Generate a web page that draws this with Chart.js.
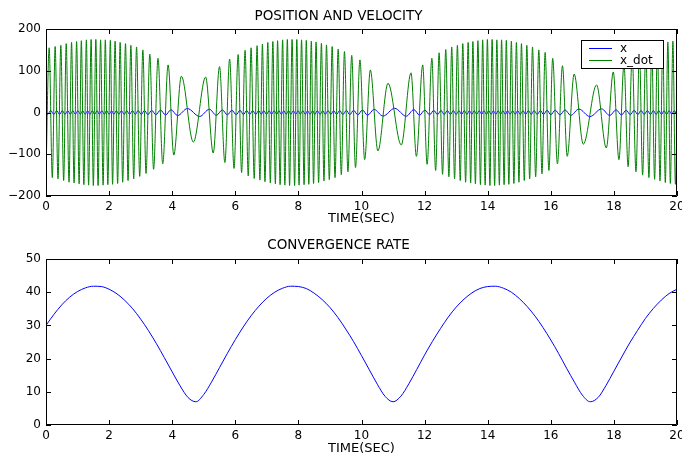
<!DOCTYPE html>
<html>
<head>
<meta charset="utf-8">
<script src="https://cdn.jsdelivr.net/npm/chart.js@4.4.0/dist/chart.umd.min.js"></script>
<style>
  html, body { margin: 0; padding: 0; background: #fff; }
  #wrap { position: relative; width: 682px; height: 455px; overflow: hidden; }
  canvas { position: absolute; left: 0; }
  #chart-top { top: 0; }
  #chart-bottom { top: 228px; }
</style>
</head>
<body>
<div id="wrap">
  <canvas id="chart-top" width="682" height="228"></canvas>
  <canvas id="chart-bottom" width="682" height="227"></canvas>
</div>
<script>
// Data: extrema of x_dot, extrema of x, convergence rate
const xdotTime = [
  0, 0.10, 0.20, 0.29, 0.38, 0.47, 0.56, 0.64, 0.73, 0.81, 0.89, 0.97, 1.05, 1.12, 1.20, 1.28, 1.35, 1.43, 1.50, 1.58,
  1.65, 1.73, 1.81, 1.88, 1.96, 2.04, 2.11, 2.19, 2.27, 2.35, 2.43, 2.52, 2.60, 2.69, 2.78, 2.87, 2.97, 3.07, 3.17, 3.29,
  3.41, 3.55, 3.70, 3.87, 4.05, 4.29, 4.67, 5.06, 5.30, 5.50, 5.67, 5.82, 5.96, 6.09,
  6.20, 6.31, 6.41, 6.50, 6.60, 6.69, 6.78, 6.86, 6.94, 7.03, 7.11, 7.19, 7.27, 7.34, 7.42, 7.50, 7.57, 7.65, 7.72, 7.80,
  7.88, 7.95, 8.02, 8.10, 8.18, 8.25, 8.33, 8.41, 8.48, 8.56, 8.64, 8.73, 8.81, 8.89, 8.98, 9.07, 9.16, 9.26, 9.36, 9.46,
  9.57, 9.69, 9.81, 9.95, 10.10, 10.28, 10.52, 10.84, 11.26, 11.57, 11.74, 11.94, 12.08, 12.23,
  12.35, 12.46, 12.57, 12.67, 12.77, 12.86, 12.95, 13.04, 13.13, 13.21, 13.30, 13.38, 13.46, 13.53, 13.61, 13.69, 13.77, 13.84, 13.92, 13.99,
  14.07, 14.14, 14.22, 14.29, 14.37, 14.44, 14.52, 14.59, 14.67, 14.75, 14.83, 14.91, 14.99, 15.07, 15.16, 15.24, 15.33, 15.42, 15.52, 15.62,
  15.72, 15.82, 15.94, 16.06, 16.21, 16.37, 16.52, 16.74, 17.03, 17.45, 17.76, 17.98, 18.16, 18.32,
  18.45, 18.58, 18.70, 18.81, 18.91, 19.01, 19.11, 19.20, 19.29, 19.38, 19.46, 19.55, 19.63, 19.71, 19.79, 19.87, 19.95, 20.03
];
const xdotValue = [
  -150, 155, -156, 158, -159, 161, -163, 165, -167, 168, -169, 170, -171, 172, -173, 174, -174, 175, -175, 175,
  -175, 174, -174, 174, -173, 173, -172, 171, -170, 168, -167, 165, -163, 161, -159, 157, -153, 150, -146, 140,
  -136, 130, -123, 114, -102, 87, -71, 85, -97, 110, -120, 128, -134, 139,
  -144, 149, -152, 155, -158, 160, -162, 164, -166, 168, -169, 170, -171, 172, -173, 174, -174, 175, -175, 175,
  -175, 175, -174, 174, -173, 173, -172, 171, -170, 169, -168, 166, -164, 162, -161, 158, -156, 152, -149, 146,
  -142, 137, -132, 126, -113, 102, -92, 70, -78, 95, -105, 114, -124, 130,
  -139, 143, -148, 151, -154, 157, -159, 161, -163, 165, -167, 168, -169, 170, -171, 172, -173, 174, -174, 175,
  -175, 175, -175, 174, -174, 174, -173, 173, -172, 171, -170, 168, -167, 165, -163, 161, -159, 157, -154, 150,
  -147, 144, -139, 130, -123, 112, -105, 92, -76, 66, -85, 97, -113, 116,
  -130, 137, -142, 147, -150, 153, -156, 158, -160, 162, -164, 166, -168, 169, -170, 171, -172, 172
];

const xTime = [
  0,
  0.05, 0.15, 0.25, 0.34, 0.43, 0.52, 0.60, 0.69, 0.77, 0.85, 0.93, 1.01, 1.09, 1.16, 1.24, 1.32, 1.39, 1.47, 1.54, 1.62,
  1.69, 1.77, 1.85, 1.92, 2.00, 2.08, 2.15, 2.23, 2.31, 2.39, 2.48, 2.56, 2.65, 2.74, 2.83, 2.92, 3.02, 3.12, 3.23, 3.35,
  3.48, 3.63, 3.79, 3.96, 4.17, 4.48, 4.87, 5.18, 5.40, 5.59, 5.75, 5.89, 6.03, 6.15,
  6.26, 6.36, 6.46, 6.55, 6.65, 6.74, 6.82, 6.90, 6.99, 7.07, 7.15, 7.23, 7.31, 7.38, 7.46, 7.54, 7.61, 7.69, 7.76, 7.84,
  7.92, 7.99, 8.06, 8.14, 8.22, 8.29, 8.37, 8.45, 8.52, 8.60, 8.69, 8.77, 8.85, 8.94, 9.03, 9.12, 9.21, 9.31, 9.41, 9.52,
  9.63, 9.75, 9.88, 10.03, 10.19, 10.40, 10.68, 11.05, 11.42, 11.66, 11.84, 12.01, 12.16, 12.29, 12.41, 12.52,
  12.62, 12.72, 12.82, 12.91, 13.00, 13.09, 13.17, 13.26, 13.34, 13.42, 13.50, 13.57, 13.65, 13.73, 13.81, 13.88, 13.96, 14.03, 14.11, 14.18,
  14.26, 14.33, 14.41, 14.48, 14.56, 14.63, 14.71, 14.79, 14.87, 14.95, 15.03, 15.12, 15.20, 15.29, 15.38, 15.47, 15.57, 15.67, 15.77, 15.88,
  16.00, 16.14, 16.29, 16.45, 16.63, 16.89, 17.24, 17.61, 17.87, 18.07, 18.24, 18.39, 18.52, 18.64, 18.76, 18.86, 18.96, 19.06, 19.16, 19.25,
  19.34, 19.42, 19.51, 19.59, 19.67, 19.75, 19.83, 19.91, 19.99
];
const xValue = [
  0,
  -4.8, 4.7, -4.7, 4.6, -4.6, 4.5, -4.5, 4.4, -4.4, 4.3, -4.3, 4.3, -4.2, 4.2, -4.2, 4.2, -4.2, 4.2, -4.2, 4.2,
  -4.2, 4.2, -4.2, 4.2, -4.2, 4.2, -4.3, 4.3, -4.3, 4.3, -4.4, 4.4, -4.5, 4.5, -4.6, 4.7, -4.8, 4.9, -5.0, 5.2,
  -5.4, 5.7, -6.0, 6.6, -7.4, 9.5, -9.6, 7.8, -6.8, 6.2, -5.8, 5.5, -5.3, 5.1,
  -5.0, 4.9, -4.8, 4.7, -4.6, 4.6, -4.5, 4.5, -4.4, 4.4, -4.3, 4.3, -4.3, 4.2, -4.2, 4.2, -4.2, 4.2, -4.2, 4.2,
  -4.2, 4.2, -4.2, 4.2, -4.2, 4.2, -4.3, 4.3, -4.3, 4.3, -4.4, 4.4, -4.5, 4.5, -4.6, 4.6, -4.7, 4.8, -4.9, 5.0,
  -5.2, 5.4, -5.7, 6.0, -6.6, 7.4, -8.6, 10.0, -8.9, 7.0, -6.4, 5.9, -5.5, 5.2, -5.1, 4.9,
  -4.8, 4.7, -4.7, 4.6, -4.6, 4.5, -4.5, 4.4, -4.4, 4.3, -4.3, 4.3, -4.2, 4.2, -4.2, 4.2, -4.2, 4.2, -4.2, 4.2,
  -4.2, 4.2, -4.2, 4.2, -4.2, 4.2, -4.3, 4.3, -4.3, 4.3, -4.4, 4.4, -4.5, 4.5, -4.6, 4.7, -4.8, 4.9, -5.0, 5.2,
  -5.4, 5.6, -5.9, 6.3, -7.0, 8.3, -9.8, 8.7, -7.2, 6.4, -5.9, 5.5, -5.3, 5.1, -5.0, 4.9, -4.8, 4.7, -4.7, 4.6,
  -4.6, 4.5, -4.5, 4.4, -4.4, 4.3, -4.3, 4.3, -4.3
];

const rateTime = [
  0, 0.25, 0.5, 0.75, 1, 1.25, 1.5, 1.75, 2, 2.25, 2.5, 2.75, 3, 3.25, 3.5, 3.75, 4, 4.25, 4.5, 4.75,
  5, 5.25, 5.5, 5.75, 6, 6.25, 6.5, 6.75, 7, 7.25, 7.5, 7.75, 8, 8.25, 8.5, 8.75, 9, 9.25, 9.5, 9.75,
  10, 10.25, 10.5, 10.75, 11, 11.25, 11.5, 11.75, 12, 12.25, 12.5, 12.75, 13, 13.25, 13.5, 13.75, 14, 14.25, 14.5, 14.75,
  15, 15.25, 15.5, 15.75, 16, 16.25, 16.5, 16.75, 17, 17.25, 17.5, 17.75, 18, 18.25, 18.5, 18.75, 19, 19.25, 19.5, 19.75, 20
];
const rateValue = [
  30.0, 33.3, 36.2, 38.5, 40.2, 41.3, 41.8, 41.7, 40.9, 39.5,
  37.5, 35.0, 31.9, 28.4, 24.5, 20.3, 16.0, 11.8, 8.3, 7.0,
  9.2, 13.0, 17.3, 21.6, 25.7, 29.5, 32.9, 35.8, 38.2, 40.0,
  41.2, 41.8, 41.7, 41.1, 39.7, 37.8, 35.4, 32.4, 28.9, 25.1,
  20.9, 16.6, 12.3, 8.6, 7.0, 8.7, 12.4, 16.7, 21.1, 25.2,
  29.0, 32.5, 35.5, 37.9, 39.8, 41.1, 41.7, 41.8, 41.2, 40.0,
  38.1, 35.7, 32.8, 29.4, 25.6, 21.5, 17.1, 12.9, 9.0, 7.0,
  8.3, 11.9, 16.2, 20.5, 24.7, 28.5, 32.1, 35.1, 37.6, 39.6,
  40.9
];

const FONT = "'DejaVu Sans', sans-serif";
Chart.defaults.font.family = FONT;
Chart.defaults.font.size = 12;
Chart.defaults.color = "#000";

const toPoints = (ts, vs) => ts.map((t, i) => ({ x: t, y: vs[i] }));
const minus = v => String(v).replace("-", "\u2212");

// box round the plot with inward ticks on all four sides
const frame = {
  id: "frame",
  afterDatasetsDraw(chart) {
    const { ctx, chartArea: a, scales } = chart;
    ctx.save();
    ctx.strokeStyle = "#000";
    ctx.lineWidth = 1;
    ctx.beginPath();
    ctx.rect(a.left + 0.5, a.top + 0.5, a.right - a.left - 1, a.bottom - a.top - 1);
    scales.x.ticks.forEach(t => {
      const px = Math.round(scales.x.getPixelForValue(t.value)) + 0.5;
      ctx.moveTo(px, a.bottom); ctx.lineTo(px, a.bottom - 5);
      ctx.moveTo(px, a.top); ctx.lineTo(px, a.top + 5);
    });
    scales.y.ticks.forEach(t => {
      const py = Math.round(scales.y.getPixelForValue(t.value)) + 0.5;
      ctx.moveTo(a.left, py); ctx.lineTo(a.left + 5, py);
      ctx.moveTo(a.right, py); ctx.lineTo(a.right - 5, py);
    });
    ctx.stroke();
    ctx.restore();
  }
};

// legend box in the top right corner of the upper plot
const legendBox = {
  id: "legendBox",
  afterDraw(chart) {
    const ctx = chart.ctx;
    const x0 = 581, y0 = 40, w = 82, h = 28;
    ctx.save();
    ctx.fillStyle = "#fff";
    ctx.fillRect(x0, y0, w, h);
    ctx.strokeStyle = "#000";
    ctx.lineWidth = 1;
    ctx.strokeRect(x0 + 0.5, y0 + 0.5, w, h);
    chart.data.datasets.forEach((ds, i) => {
      const y = y0 + 8.5 + i * 12;
      ctx.strokeStyle = ds.borderColor;
      ctx.beginPath();
      ctx.moveTo(x0 + 8, y);
      ctx.lineTo(x0 + 31, y);
      ctx.stroke();
      ctx.fillStyle = "#000";
      ctx.font = "12px " + FONT;
      ctx.textBaseline = "middle";
      ctx.fillText(ds.label, x0 + 39, y);
    });
    ctx.restore();
  }
};

function xScale(height, titlePad) {
  return {
    type: "linear",
    min: 0,
    max: 20,
    ticks: { stepSize: 2, padding: 4, maxRotation: 0, autoSkip: false },
    grid: { display: false, drawTicks: false },
    border: { display: false },
    title: {
      display: true,
      text: "TIME(SEC)",
      padding: { top: 0, bottom: titlePad },
      font: { size: 13, lineHeight: 1 }
    },
    afterFit(s) { s.height = height; s.paddingLeft = 0; s.paddingRight = 0; }
  };
}

function yScale(min, max, step) {
  return {
    min: min,
    max: max,
    ticks: { stepSize: step, padding: 5, callback: v => minus(v) },
    grid: { display: false, drawTicks: false },
    border: { display: false },
    afterFit(s) { s.width = 46; s.paddingTop = 0; s.paddingBottom = 0; }
  };
}

function titleOpts(text, top, bottom) {
  return {
    display: true,
    text: text,
    font: { size: 13.5, weight: "normal", lineHeight: 1 },
    padding: { top: top, bottom: bottom },
    color: "#000"
  };
}

// Chart Position and Velocity Start
new Chart(document.getElementById("chart-top"), {
  type: "line",
  data: {
    datasets: [
      {
        label: "x",
        data: toPoints(xTime, xValue),
        borderColor: "#0000ff",
        borderWidth: 1,
        pointRadius: 0,
        cubicInterpolationMode: "monotone",
        order: 1
      },
      {
        label: "x_dot",
        data: toPoints(xdotTime, xdotValue),
        borderColor: "#008000",
        borderWidth: 1,
        pointRadius: 0,
        cubicInterpolationMode: "monotone",
        order: 0
      }
    ]
  },
  options: {
    responsive: false,
    animation: false,
    devicePixelRatio: 1,
    layout: { padding: { left: 0, right: 5, top: 0, bottom: 0 } },
    scales: {
      x: xScale(32, 2.5),
      y: yScale(-200, 200, 100)
    },
    plugins: {
      legend: { display: false },
      tooltip: { enabled: false },
      title: titleOpts("POSITION AND VELOCITY", 10, 5.5)
    }
  },
  plugins: [frame, legendBox]
});
// Chart Position and Velocity End

// Chart Convergence Rate Start
new Chart(document.getElementById("chart-bottom"), {
  type: "line",
  data: {
    datasets: [
      {
        label: "rate",
        data: toPoints(rateTime, rateValue),
        borderColor: "#0000ff",
        borderWidth: 1,
        pointRadius: 0,
        cubicInterpolationMode: "monotone"
      }
    ]
  },
  options: {
    responsive: false,
    animation: false,
    devicePixelRatio: 1,
    layout: { padding: { left: 0, right: 5, top: 0, bottom: 0 } },
    scales: {
      x: xScale(30, 0),
      y: yScale(0, 50, 10)
    },
    plugins: {
      legend: { display: false },
      tooltip: { enabled: false },
      title: titleOpts("CONVERGENCE RATE", 11, 6.5)
    }
  },
  plugins: [frame]
});
// Chart Convergence Rate End
</script>
</body>
</html>
